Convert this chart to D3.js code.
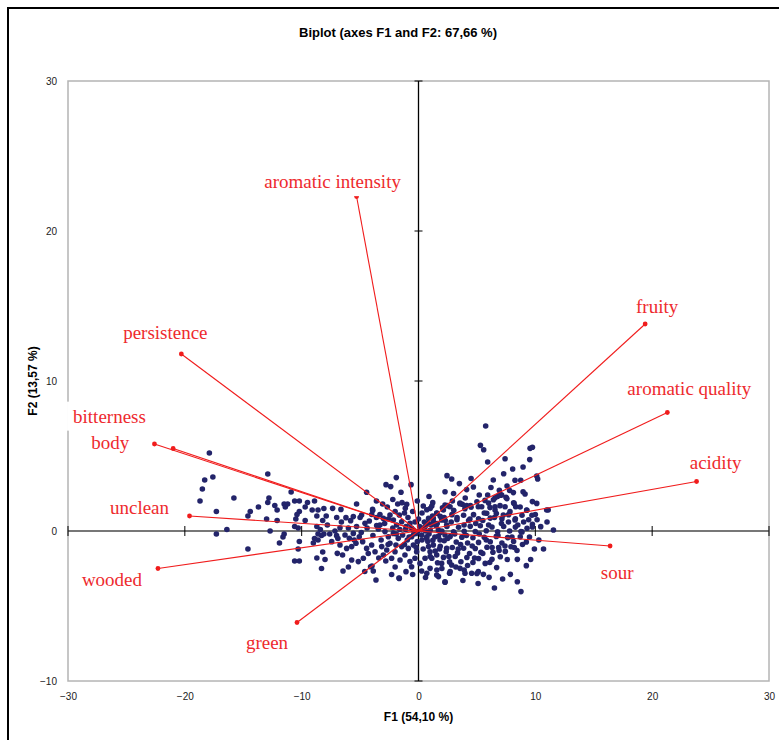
<!DOCTYPE html>
<html>
<head>
<meta charset="utf-8">
<title>Biplot</title>
<style>
  body { margin: 0; background: #fff; }
</style>
</head>
<body>
<script src="https://d3js.org/d3.v7.min.js"></script>
<script>

// ---- data ----
var chartTitle = "Biplot (axes F1 and F2: 67,66 %)";
var xTitle = "F1 (54,10 %)";
var yTitle = "F2 (13,57 %)";
var xTicks = [-30, -20, -10, 0, 10, 20, 30];
var yTicks = [-10, 0, 10, 20, 30];

// variable loadings (scaled), F1 / F2
var variables = ["aromatic intensity", "persistence", "bitterness", "body", "unclean",
                 "wooded", "green", "sour", "acidity", "aromatic quality", "fruity"];
var varF1 = [-5.3, -20.3, -22.6, -21.0, -19.6, -22.3, -10.4, 16.4, 23.8, 21.3, 19.4];
var varF2 = [22.3, 11.8, 5.8, 5.5, 1.0, -2.5, -6.1, -1.0, 3.3, 7.9, 13.8];

var observations = [
  [-17.9,5.2],[-12.9,3.8],[-18.3,3.4],[-17.6,3.6],[-18.5,2.8],[-18.7,2.0],[-15.8,2.2],[-10.9,2.6],
  [-12.8,2.2],[-12.9,1.9],[-13.7,1.6],[-14.4,1.3],[-14.6,1.0],[-17.3,1.3],[-12.3,1.7],[-12.1,1.4],
  [-11.5,1.8],[-11.2,1.8],[-11.4,1.6],[-13.0,0.8],[-12.1,0.7],[-16.4,0.1],[-17.3,-0.2],[-12.7,0.0],
  [-11.5,-0.2],[-11.6,-0.4],[-11.9,-0.8],[-14.6,-1.2],
  [-10.6,2.0],[-10.2,2.0],[-9.5,1.9],[-8.9,2.0],[-9.7,1.6],[-10.2,1.3],[-10.4,1.1],[-10.5,0.8],
  [-9.7,0.7],[-9.1,1.4],[-8.6,1.4],[-8.7,1.0],[-8.1,1.5],[-7.9,1.0],[-8.2,0.7],[-10.6,0.3],
  [-10.3,0.2],[-8.7,0.3],[-8.4,0.1],[-8.6,-0.2],[-8.1,-0.2],[-8.9,-0.5],[-8.3,-0.3],[-10.2,-0.7],
  [-9.0,-0.8],[-8.6,-0.6],[-10.3,-1.2],[-8.2,-1.4],[-8.7,-1.8],[-10.6,-2.0],[-10.2,-2.0],[-8.0,-1.9],
  [-8.3,-2.5],
  [-7.35,1.51],[-6.64,1.44],[-6.21,0.89],[-5.58,0.96],[-5.81,0.69],[-4.87,1.07],[-3.92,1.36],[-4.58,0.51],
  [-4.21,0.67],[-3.58,0.36],[-3.3,0.4],[-3.44,0.13],[-3.01,0.84],[-2.58,0.8],[-6.72,0.22],[-7.15,0],
  [-7.01,-0.31],[-6.29,-0.27],[-5.92,-0.49],[-5.58,-0.16],[-5.07,-0.38],[-4.78,-0.71],[-7.43,-0.71],[-6.72,-0.93],
  [-6.15,-1.16],[-5.72,-1.04],[-5.35,-0.82],[-4.44,-1.16],[-4.01,-0.93],[-3.72,-1.38],[-3.15,-1.04],[-3.01,-1.6],
  [-2.72,-1.27],[-2.3,-1.82],[-2.01,-1.38],[-1.58,-1.93],[-1.16,-1.6],[-0.73,-2.04],[-4.72,-1.82],[-5.15,-2.04],
  [-5.72,-1.93],[-6.5,-1.6],[-6.95,-1.49],[-3.64,-3.27],[-1.64,-3.16],[-3.87,-2.67],[-4.1,-2.38],[0.27,-2.67],
  [-2.44,1.07],[-1.64,1.07],[-2.15,0.73],[-1.87,0.4],[-1.44,0.62],[-1.07,0.29],[-0.73,0.51],[-0.44,0.07],
  [-0.21,-0.16],[-0.59,-0.38],[-0.96,-0.6],[-1.36,-0.27],[-1.73,-0.49],[-2.15,-0.16],[-2.58,-0.38],[-2.87,-0.04],
  [-2.44,-0.82],[-1.93,-0.93],[-1.44,-1.04],[-0.87,-1.16],[-0.44,-0.93],[-0.16,-1.38],[-0.1,-0.71],[-0.3,-1.82],
  [-0.59,-2.38],[-1.07,-2.71],[0.13,-2.16],[0.56,-1.82],[0.99,-1.38],[1.27,-0.93],[0.7,-0.49],[0.27,-0.27],
  [0.41,0.18],[0.84,0.51],[1.27,0.84],[1.56,1.18],[2.13,1.4],[1.98,0.73],[2.41,0.4],[1.7,0.07],
  [2.27,-0.27],[1.84,-0.6],[2.41,-1.16],[1.56,-1.6],[1.98,-2.16],[0.99,-2.49],[1.56,-2.93],[2.27,-3.42],
  [-1.9,3.56],[-2.78,3.09],[-2.38,2.96],[-1.5,2.58],[-0.64,3.09],[-4.44,2.58],[-3.07,1.8],[-2.67,1.6],
  [-1.78,1.8],[-1.41,1.89],[-1.01,1.78],[-1.13,1.51],[0.41,1.67],[1.22,1.89],[-3.93,1.44],
  [5.75,7.0],[5.3,5.71],[5.58,5.42],[5.92,4.6],[7.41,4.82],[9.55,5.51],[9.75,5.58],[9.52,4.76],
  [8.95,4.27],[8.06,4.13],[7.29,3.82],[10.12,3.67],[10.2,3.47],[8.26,3.38],[8.75,3.38],[2.44,3.69],
  [2.84,3.47],[3.5,3.16],[4.12,2.76],[4.7,2.93],[7.58,3.0],[6.92,2.71],[6.98,2.47],[6.78,2.31],
  [7.12,2.4],[5.92,2.4],[6.55,2.22],[8.12,2.56],[8.95,2.62],[9.12,2.47],[7.49,2.24],[8.18,1.84],
  [8.32,1.62],[9.75,1.96],[10.12,1.84],[5.69,2.04],[5.12,1.62],[3.55,1.82],[3.75,1.78],[4.12,1.69],
  [4.5,1.58],[5.41,1.62],[6.12,1.56],[6.55,1.62],[6.98,1.69],[7.41,1.62],[2.7,1.62],[2.27,1.73],
  [2.27,2.62],
  [11.55,0.07],[10.46,0.29],[9.75,0.44],[9.75,0.27],[9.92,-1.2],[9.23,-2.31],[8.46,-1.89],[8.46,-3.38],
  [8.77,-4.04],[7.86,-2.89],[6.69,-2.44],[6.04,-3.09],[5.55,-2.89],[5.12,-2.71],[4.55,-2.82],[3.98,-2.82],
  [3.55,-2.49],[2.84,-2.27],[2.66,-2.82],[2.27,-3.38],[9.26,1.4],[10.97,1.4],[8.77,-0.04],[8.26,0.73],
  [7.26,1.07],[7.83,1.29],[6.55,1.4],[5.84,1.18],[11.1,1.4],
  [0.71,1.42],[1.14,1.67],[1.57,1.2],[2.05,1.55],[2.49,1.69],[3.02,1.38],[3.55,1.86],[3.97,1.49],
  [4.45,1.7],[5.0,1.95],[6.0,1.86],[6.41,2.08],[7.02,2.38],[7.57,2.16],[8.14,1.88],[8.7,1.6],
  [9.27,1.38],[9.71,1.05],[10.15,0.75],
  [0.86,0.84],[1.29,0.6],[1.86,0.98],[2.29,0.7],[2.86,1.09],[3.29,0.75],[3.86,1.05],[4.29,0.7],
  [4.71,1.09],[5.14,0.82],[5.63,1.2],[6.14,0.86],[6.66,1.16],[7.14,0.82],[7.71,1.09],[8.29,0.82],
  [8.86,1.05],[9.43,0.75],
  [0.57,0.3],[1.0,0.05],[1.51,0.35],[2.0,0.0],[2.43,0.3],[3.0,-0.06],[3.43,0.25],[3.91,-0.02],
  [4.43,0.31],[4.86,-0.03],[5.29,0.35],[5.8,0.02],[6.29,0.27],[6.77,-0.05],[7.29,0.3],[7.8,0.0],
  [8.29,0.26],[8.86,-0.06],[9.29,0.18],
  [0.71,-0.38],[1.23,-0.62],[1.71,-0.33],[2.2,-0.65],[2.71,-0.37],[3.23,-0.73],[3.71,-0.42],[4.2,-0.8],
  [4.66,-0.45],[5.14,-0.76],[5.63,-0.42],[6.14,-0.72],[6.66,-0.36],[7.14,-0.8],[7.63,-0.44],[8.14,-0.7],
  [8.71,-0.39],[9.23,-0.73],
  [0.86,-1.04],[1.43,-1.33],[1.86,-1.02],[2.37,-1.38],[2.89,-1.1],[3.34,-1.46],[3.86,-1.15],[4.37,-1.5],
  [4.86,-1.17],[5.34,-1.42],[5.86,-1.08],[6.37,-1.42],[6.86,-1.1],[7.43,-1.36],[7.91,-1.05],[8.43,-1.3],
  [1.14,-1.82],[1.63,-2.12],[2.14,-1.76],[2.66,-2.06],[3.14,-1.7],[3.63,-2.05],[4.14,-1.77],[4.66,-2.1],
  [5.14,-1.83],[5.71,-2.16],[6.29,-1.88],[7.0,-1.72],
  [1.57,-2.6],[2.71,-2.7],[3.91,-2.6],[5.0,-2.83],[1.71,-3.04],[0.71,-2.82],
  [-5.3,0.3],[-4.9,-0.1],[-4.4,0.2],[-3.9,-0.3],[-3.6,0.9],[-3.2,-0.6],[-2.9,0.5],[-2.6,-0.9],
  [-2.2,0.2],[-1.9,-0.2],[-1.6,0.1],[-1.2,-0.9],[-0.9,0.9],[-0.6,0.2],[-0.3,0.6],[0.1,0.3],
  [0.3,-0.6],[0.6,0.0],[0.9,-0.2],[1.1,0.4],[1.4,-0.4],[1.6,0.5],[1.9,-0.1],[2.2,0.9],
  [2.5,-0.5],[2.8,0.6],[3.1,-0.2],[3.3,0.9],[3.6,-0.9],[3.9,0.4],[4.1,-0.3],[4.4,0.8],
  [4.6,-1.0],[4.9,0.5],[5.2,-0.2],[5.5,0.7],[5.8,-0.6],[6.0,0.4],[6.3,-1.1],[6.5,0.9],
  [6.8,-0.3],[7.1,0.5],[7.4,-1.0],[7.7,0.6],[8.0,-0.4],[8.5,0.4],[-0.1,-0.05],[0.2,0.1],
  [-0.4,-0.2],[0.5,0.6],[-0.8,-0.4],[0.8,-0.7],[-1.1,0.1],[1.2,1.0],[0.0,0.8],[-0.2,-1.1],
  [0.4,-1.2],[1.0,-1.7],[1.8,-1.2],[2.6,-1.7],[3.4,-1.2],[4.2,-2.3],[4.8,-1.8],[5.5,-1.5],
  [6.1,-2.1],[6.9,-1.3],[7.6,-1.9],[8.2,-1.1],[8.9,-0.9],[9.5,-0.4],[9.0,0.6],[3.2,-2.4],
  [2.0,-2.5],[0.6,-3.1],[-0.5,-2.9],[-2.0,-2.4],[-2.8,-2.0],[-3.4,-1.8],[-4.3,-1.5],[-5.5,-0.6],
  [-6.0,0.2],[-6.6,0.6],[-7.0,0.9],[-7.8,0.4],[-7.6,-0.2],[-6.9,-0.5],[-5.0,0.9],[-4.0,1.1],
  [-3.3,1.1],[-2.0,1.3],[-1.2,1.2],[-0.5,1.3],[0.3,1.2],[1.0,1.5],[2.9,2.0],[4.0,2.2],
  [5.2,2.4],[6.2,2.9],[7.8,2.7],[3.0,2.5],[4.5,3.5],[6.4,3.4],[0.9,2.3],[-0.1,2.0],
  [-2.2,2.1],[-3.6,2.0],[-5.3,1.8],[-6.0,-2.4],[-4.6,-2.7],[-2.3,-2.9],[3.8,-3.3],[5.1,-3.5],
  [7.2,-3.2],[6.5,-3.8],[9.6,-1.9],[10.3,-0.6],[10.7,-1.2],[10.0,1.1],[11.0,0.6],
  [-6.46,-2.67],[-3.98,-2.33],[-1.67,-3.13]
];

// label placement relative to each vector tip (px)
var labelShift = {
  "aromatic intensity": [-24, -15], "persistence": [-16, -22], "bitterness": [-45, -28],
  "body": [-63, -6], "unclean": [-50, -9], "wooded": [-46, 11], "green": [-30, 20],
  "sour": [7, 26], "acidity": [19, -19], "aromatic quality": [22, -24], "fruity": [12, -18]
};

// ---- layout ----
var margin = { top: 81, left: 68 },
    width = 701,
    height = 600;

var svg = d3.select("body").append("svg")
    .attr("width", 779)
    .attr("height", 740);

// outer frame
svg.append("rect")
    .attr("x", 8).attr("y", 8)
    .attr("width", 820).attr("height", 820)
    .attr("fill", "none")
    .attr("stroke", "#000")
    .attr("stroke-width", 2);

var x = d3.scaleLinear().domain([-30, 30]).range([0, width]);
var y = d3.scaleLinear().domain([-10, 30]).range([height, 0]);

var g = svg.append("g")
    .attr("transform", "translate(" + margin.left + "," + margin.top + ")");

// plot area border
g.append("rect")
    .attr("width", width).attr("height", height)
    .attr("fill", "none")
    .attr("stroke", "#b4b4b4")
    .attr("stroke-width", 1.5);

// tick labels
var xAxis = g.append("g")
    .attr("transform", "translate(0," + height + ")")
    .call(d3.axisBottom(x).tickValues(xTicks).tickSize(0).tickPadding(12));
var yAxis = g.append("g")
    .call(d3.axisLeft(y).tickValues(yTicks).tickSize(0).tickPadding(11));
[xAxis, yAxis].forEach(function(a) {
  a.select(".domain").remove();
  a.selectAll("text")
    .attr("font-family", "Liberation Sans, Arial, sans-serif")
    .attr("font-size", 10)
    .attr("fill", "#222");
});

// zero lines with crossing ticks
g.append("line")
    .attr("x1", 0).attr("x2", width)
    .attr("y1", y(0)).attr("y2", y(0))
    .attr("stroke", "#777").attr("stroke-width", 2.2);
g.selectAll(".xt").data(xTicks).enter().append("line")
    .attr("x1", function(d) { return x(d); }).attr("x2", function(d) { return x(d); })
    .attr("y1", y(0) - 5).attr("y2", y(0) + 5)
    .attr("stroke", "#000").attr("stroke-width", 1);

g.append("line")
    .attr("x1", x(0)).attr("x2", x(0))
    .attr("y1", 0).attr("y2", height)
    .attr("stroke", "#000").attr("stroke-width", 1.3);
g.selectAll(".yt").data(yTicks).enter().append("line")
    .attr("x1", x(0) - 4).attr("x2", x(0) + 4)
    .attr("y1", function(d) { return y(d); }).attr("y2", function(d) { return y(d); })
    .attr("stroke", "#000").attr("stroke-width", 1);

// observations
g.selectAll(".obs").data(observations).enter().append("circle")
    .attr("cx", function(d) { return x(d[0]); })
    .attr("cy", function(d) { return y(d[1]); })
    .attr("r", 2.8)
    .attr("fill", "#23246a");

// variable vectors
var vars = variables.map(function(n, i) { return { name: n, f1: varF1[i], f2: varF2[i] }; });

g.selectAll(".vec").data(vars).enter().append("line")
    .attr("x1", x(0)).attr("y1", y(0))
    .attr("x2", function(d) { return x(d.f1); })
    .attr("y2", function(d) { return y(d.f2); })
    .attr("stroke", "#f01c1c")
    .attr("stroke-width", 1.1);

g.selectAll(".tip").data(vars).enter().append("circle")
    .attr("cx", function(d) { return x(d.f1); })
    .attr("cy", function(d) { return y(d.f2); })
    .attr("r", 2.4)
    .attr("fill", "#f01c1c");

// labels (with white box behind)
var lab = g.selectAll(".lab").data(vars).enter().append("g")
    .attr("transform", function(d) {
      var s = labelShift[d.name];
      return "translate(" + (x(d.f1) + s[0]) + "," + (y(d.f2) + s[1]) + ")";
    });
lab.append("text")
    .attr("text-anchor", "middle")
    .attr("dy", "0.35em")
    .attr("font-family", "Liberation Serif, 'Times New Roman', serif")
    .attr("font-size", 19)
    .attr("fill", "#ee2a2e")
    .text(function(d) { return d.name; });
lab.each(function() {
  var t = d3.select(this).select("text");
  var b = t.node().getBBox();
  d3.select(this).insert("rect", "text")
      .attr("x", b.x - 6).attr("y", b.y - 4)
      .attr("width", b.width + 12).attr("height", b.height + 8)
      .attr("fill", "#fff");
});

// titles
svg.append("text")
    .attr("x", 398).attr("y", 37)
    .attr("text-anchor", "middle")
    .attr("font-family", "Liberation Sans, Arial, sans-serif")
    .attr("font-weight", "bold")
    .attr("font-size", 13)
    .text(chartTitle);

svg.append("text")
    .attr("x", margin.left + x(0)).attr("y", 721)
    .attr("text-anchor", "middle")
    .attr("font-family", "Liberation Sans, Arial, sans-serif")
    .attr("font-weight", "bold")
    .attr("font-size", 12)
    .text(xTitle);

svg.append("text")
    .attr("transform", "translate(37,381) rotate(-90)")
    .attr("text-anchor", "middle")
    .attr("font-family", "Liberation Sans, Arial, sans-serif")
    .attr("font-weight", "bold")
    .attr("font-size", 12)
    .text(yTitle);

</script>
</body>
</html>
